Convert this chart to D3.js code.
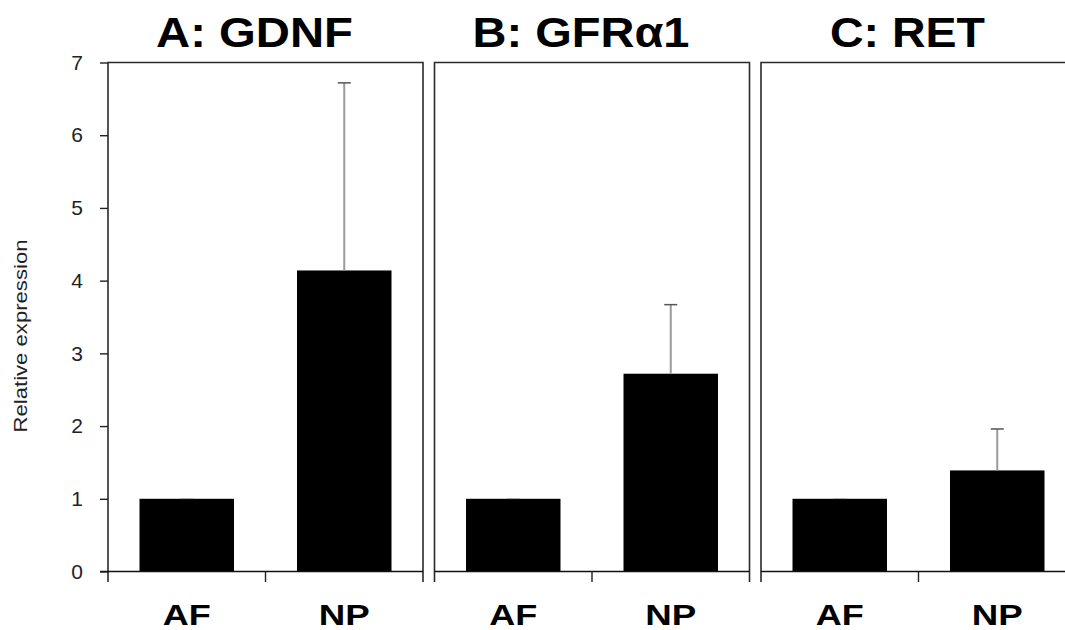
<!DOCTYPE html>
<html>
<head>
<meta charset="utf-8">
<script src="https://cdn.jsdelivr.net/npm/d3@7"></script>
<style>
  html, body { margin: 0; padding: 0; background: #fff; }
  svg { display: block; font-family: "Liberation Sans", Arial, sans-serif; }
</style>
</head>
<body>
<svg id="chart" width="1065" height="630"></svg>
<script>
// ---- data ----
const panelTitles = ["A: GDNF", "B: GFRα1", "C: RET"];
const categories = ["AF", "NP"];
const valuesGDNF = [1, 4.14];
const errorsGDNF = [0, 2.58];
const valuesGFRa1 = [1, 2.72];
const errorsGFRa1 = [0, 0.95];
const valuesRET = [1, 1.39];
const errorsRET = [0, 0.57];
const yTicks = [0, 1, 2, 3, 4, 5, 6, 7];
const yLabel = "Relative expression";

const panelValues = [valuesGDNF, valuesGFRa1, valuesRET];
const panelErrors = [errorsGDNF, errorsGFRa1, errorsRET];

// ---- layout ----
const svg = d3.select("#chart");
const plotTop = 62.5, plotBottom = 571.5;
const panelW = 315, panelStep = 326.5, firstLeft = 108;

const y = d3.scaleLinear().domain([0, 7]).range([plotBottom, plotTop]);
const x = d3.scaleBand().domain(categories).range([0, panelW])
  .paddingInner(0.4).paddingOuter(0.2);

const titleWidths = [197, 217, 155];

panelTitles.forEach((title, i) => {
  const left = firstLeft + i * panelStep;
  const g = svg.append("g").attr("transform", `translate(${left},0)`);

  // bars
  g.selectAll("rect.bar").data(categories).join("rect")
    .attr("class", "bar")
    .attr("x", d => x(d))
    .attr("width", x.bandwidth())
    .attr("y", (d, j) => y(panelValues[i][j]))
    .attr("height", (d, j) => y(0) - y(panelValues[i][j]))
    .attr("fill", "#000");

  // error bars (upper only)
  const eb = g.selectAll("g.err").data(categories).join("g").attr("class", "err");
  eb.append("line")
    .attr("x1", d => x(d) + x.bandwidth() / 2)
    .attr("x2", d => x(d) + x.bandwidth() / 2)
    .attr("y1", (d, j) => y(panelValues[i][j]))
    .attr("y2", (d, j) => y(panelValues[i][j] + panelErrors[i][j]))
    .attr("stroke", "#9a9a9a").attr("stroke-width", 2);
  eb.append("line")
    .attr("x1", d => x(d) + x.bandwidth() / 2 - 6.5)
    .attr("x2", d => x(d) + x.bandwidth() / 2 + 6.5)
    .attr("y1", (d, j) => y(panelValues[i][j] + panelErrors[i][j]))
    .attr("y2", (d, j) => y(panelValues[i][j] + panelErrors[i][j]))
    .attr("stroke", "#555").attr("stroke-width", 1.5)
    .attr("opacity", (d, j) => panelErrors[i][j] > 0 ? 1 : 0.25);

  // frame: top + left + right
  g.append("path")
    .attr("d", `M0,${plotBottom + 10.5} V${plotTop} H${panelW} V${plotBottom + 10.5}`)
    .attr("fill", "none").attr("stroke", "#2a2a2a").attr("stroke-width", 1.6);

  // bottom axis line
  g.append("line")
    .attr("x1", i === 0 ? -8 : 0).attr("x2", panelW)
    .attr("y1", plotBottom).attr("y2", plotBottom)
    .attr("stroke", "#111").attr("stroke-width", 1.4);

  // middle tick between categories
  g.append("line")
    .attr("x1", panelW / 2).attr("x2", panelW / 2)
    .attr("y1", plotBottom).attr("y2", plotBottom + 10.5)
    .attr("stroke", "#222").attr("stroke-width", 1.4);

  // category labels
  g.selectAll("text.cat").data(categories).join("text")
    .attr("class", "cat")
    .attr("x", d => x(d) + x.bandwidth() / 2)
    .attr("y", 625)
    .attr("text-anchor", "middle")
    .attr("font-weight", "bold")
    .attr("font-size", 29)
    .attr("textLength", d => d === "AF" ? 48 : 51)
    .attr("lengthAdjust", "spacingAndGlyphs")
    .attr("fill", "#000")
    .text(d => d);

  // title
  g.append("text")
    .attr("x", panelW / 2 - 11)
    .attr("y", 47)
    .attr("text-anchor", "middle")
    .attr("font-weight", "bold")
    .attr("font-size", 42)
    .attr("textLength", titleWidths[i])
    .attr("lengthAdjust", "spacingAndGlyphs")
    .attr("fill", "#000")
    .text(title);
});

// y axis on first panel
const yAxis = d3.axisLeft(y).tickValues(yTicks).tickSize(8).tickPadding(8).tickFormat(d3.format("d"));
const ya = svg.append("g").attr("transform", `translate(${firstLeft},0)`).call(yAxis);
ya.select(".domain").remove();
ya.selectAll(".tick line").attr("stroke", "#222").attr("stroke-width", 1.4);
ya.selectAll(".tick text")
  .attr("font-family", "'Liberation Sans', Arial, sans-serif")
  .attr("font-size", 21)
  .attr("fill", "#222")
  .attr("x", -25);

// y label
svg.append("text")
  .attr("transform", `translate(27,336) rotate(-90)`)
  .attr("text-anchor", "middle")
  .attr("font-size", 19)
  .attr("textLength", 193)
  .attr("lengthAdjust", "spacingAndGlyphs")
  .attr("fill", "#222")
  .text(yLabel);
</script>
</body>
</html>
